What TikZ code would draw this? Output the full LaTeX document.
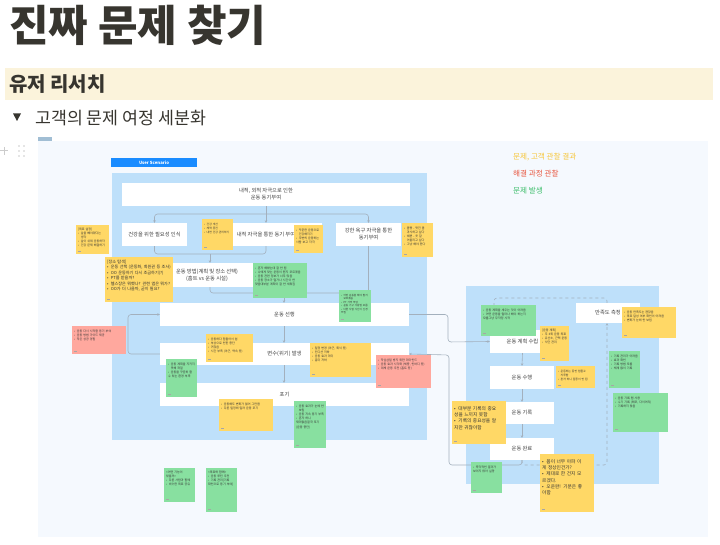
\documentclass[tikz,border=0pt]{standalone}
\usepackage{fontspec}
\setmainfont{Noto Sans CJK KR}
\usetikzlibrary{arrows.meta,calc}
\definecolor{titlec}{HTML}{37352F}
\definecolor{bandc}{HTML}{FBF3DB}
\definecolor{canvasc}{HTML}{F5F9FE}
\definecolor{panelc}{HTML}{BEE0FA}
\definecolor{scenc}{HTML}{1A8CFF}
\definecolor{linec}{HTML}{A3B0BD}
\definecolor{yel}{HTML}{FFD866}
\definecolor{grn}{HTML}{88E0A0}
\definecolor{pnk}{HTML}{FFA89E}
\definecolor{legy}{HTML}{F7C63A}
\definecolor{legr}{HTML}{E8553E}
\definecolor{legg}{HTML}{3DBE6B}
\newcommand\itm[1]{\par\hangindent=0.9em\hangafter=1\noindent\makebox[0.9em][l]{•}#1}
% \sticky{name}{colour}{x1}{y1}{x2}{y2}{font size}{text}
\newcommand\sticky[8]{%
  \fill[#2] (#3,#4) rectangle (#5,#6);
  \pgfmathsetmacro\stw{#5-#3-4}%
  \pgfmathsetmacro\stb{#7*1.35}%
  \node[anchor=north west, inner sep=0pt, text width=\stw pt, align=left,
        font=\fontsize{#7}{\stb}\selectfont, text=black!80] (#1) at ({#3+2},{#4+2.5}) {#8};
  \draw[black!35, line width=0.4pt] ({#3+2},{#6-3}) -- ({#3+5},{#6-3});
}
\tikzset{
  wbox/.style={fill=white, inner sep=0pt, text=black!75, align=center,
               font=\fontsize{5.3}{7}\selectfont},
  conn/.style={draw=linec, line width=0.6pt, rounded corners=3pt},
  arr/.style={-{Stealth[length=2.5pt,width=2.5pt]}},
  legend/.style={anchor=west, inner sep=0pt, font=\fontsize{7.6}{9}\selectfont},
}
\begin{document}
\begin{tikzpicture}[x=1pt,y=-1pt]
\useasboundingbox (0,0) rectangle (720,545);
\fill[white] (0,0) rectangle (720,545);
% header
\node[anchor=west, inner sep=0pt, text=titlec, font=\fontsize{43}{46}\bfseries\selectfont] (title) at (9,25) {진짜 문제 찾기};
\fill[bandc] (5,68) rectangle (713,100);
\node[anchor=west, inner sep=0pt, text=titlec, font=\fontsize{20}{22}\bfseries\selectfont] (head) at (9,84) {유저 리서치};
\fill[titlec] (13,113.5) -- (21,113.5) -- (17,121) -- cycle;
\node[anchor=west, inner sep=0pt, text=titlec, font=\fontsize{17.3}{19}\selectfont] (sub) at (35,118) {고객의 문제 여정 세분화};
% side icons
\draw[black!20, line width=1pt] (0,151) -- (8,151) (4,147) -- (4,155);
\foreach \dx in {19,24} \foreach \dy in {146,151,156} \fill[black!20] (\dx,\dy) circle (0.9);
% canvas
\fill[canvasc] (38,141) rectangle (708,537);
\fill[black!15!panelc] (38,137) rectangle (52,141);
\fill[scenc] (111,158) rectangle (197,167);
\node[inner sep=0pt, text=white, font=\fontsize{4.3}{5}\bfseries\selectfont] (scen) at (154,162.5) {User Scenario};
% legend
\node[legend, text=legy] (lg1) at (513,157) {문제, 고객 관찰 결과};
\node[legend, text=legr] (lg2) at (513,174) {해결 과정 관찰};
\node[legend, text=legg] (lg3) at (513,191) {문제 발생};
% panels
\fill[panelc] (112,173) rectangle (427,440);
\fill[panelc] (466,286) rectangle (659,484);
% left boxes
\node[wbox, minimum width=288pt, minimum height=23pt] (b1) at (266,194.5) {내적, 외적 자극으로 인한\\운동 동기부여};
\node[wbox, minimum width=65pt, minimum height=23pt] (b2) at (154.5,234.5) {건강을 위한 필요성 인식};
\node[wbox, minimum width=112pt, minimum height=23pt] (b3) at (266,234.5) {내적 자극을 통한 동기 부여};
\node[wbox, minimum width=65pt, minimum height=23pt] (b4) at (368.5,234.5) {강한 욕구 자극을 통한\\동기부여};
\node[wbox, minimum width=96pt, minimum height=24pt] (b5) at (207,275) {운동 방법(계획 및 장소 선택)\\(홈트 vs 운동 시설)};
\node[wbox, minimum width=249pt, minimum height=23pt] (b6) at (284.5,314.5) {운동 선행};
\node[wbox, minimum width=249pt, minimum height=22pt] (b7) at (284.5,354) {변수(위기) 발생};
\node[wbox, minimum width=249pt, minimum height=23pt] (b8) at (284.5,394.5) {포기};
% right boxes
\node[wbox, minimum width=65pt, minimum height=23pt] (r1) at (522.5,341.5) {운동 계획 수립};
\node[wbox, minimum width=64pt, minimum height=23pt] (r2) at (522,377.5) {운동 수행};
\node[wbox, minimum width=64pt, minimum height=22pt] (r3) at (522,413) {운동 기록};
\node[wbox, minimum width=64pt, minimum height=22pt] (r4) at (522,449) {운동 완료};
\node[wbox, minimum width=64pt, minimum height=20pt] (r5) at (608,313) {만족도 측정};
% coordinates for connectors
\coordinate (j1) at (266,214);
\coordinate (j2) at (210,254);
\coordinate (j3) at (284,293);
% left connectors
\draw[conn, arr] (b1.south) -- (b3.north);
\draw[conn, arr] (j1) -| (b2.north);
\draw[conn, arr] (j1) -| (b4.north);
\draw[conn] (b2.south) |- (j2) -| (b3.south);
\draw[conn, arr] (j2) -- (b5.north -| j2);
\draw[conn] (b5.south -| j2) |- (j3);
\draw[conn] (b4.south) |- (j3);
\draw[conn, arr] (j3) -- (b6.north -| j3);
\draw[conn, arr] (b6.south -| j3) -- (b7.north -| j3);
\draw[conn, arr] (b7.south -| j3) -- (b8.north -| j3);
\draw[conn, arr] (b7.west) -- (128,354) -- (128,314.5) -- (b6.west);
% right connectors
\draw[conn, arr] (b6.east) -- (448,314.5) -- (448,342) -- (r1.west);
\draw[conn, arr] (r4.south) -- (522,465) -- (449,465) -- (449,355) -- (b7.east);
\draw[conn, arr] (r1.south) -- (r2.north);
\draw[conn, arr] (r2.south) -- (r3.north);
\draw[conn, arr] (r3.south) -- (r4.north);
\coordinate (d1) at (607,465);
\coordinate (d2) at (607,298);
\coordinate (d3) at (494,298);
\coordinate (d4) at (494,330.5);
\draw[conn, dashed, arr] (r4.south) -- (522,465) -- (d1) -- (r5.south -| d1);
\draw[conn, dashed, arr] (r5.north -| d2) -- (d2) -- (d3) -- (d4);
% stickies - left panel
\sticky{s1}{yel}{76}{225}{109}{254}{3}{[목표 설정]\itm{살을 빼야겠다는 생각}\itm{살이 쉬워 운동하자}\itm{건강 문제 해결하기}}
\sticky{s2}{yel}{202}{219}{233}{250}{2.8}{\itm{건강 개선}\itm{체력 증진}\itm{내면 건강 관리하기}}
\sticky{s3}{yel}{294}{225}{323}{253}{3}{\itm{꾸준한 운동으로 건강해지기}\itm{주변의 운동하는 사람 보고 자극}}
\sticky{s4}{yel}{402}{223}{433}{257}{3}{\itm{몸짱 - 멋진 몸 과시하고 싶다}\itm{예쁜 - 옷 잘 어울리고 싶다}\itm{그냥 해야 한다}}
\sticky{s5}{yel}{105}{257}{173}{302}{4.1}{[장소 탐색]\itm{운동 선택 (운동화, 회원권 등 조사)}\itm{OO 운동하기 다시 조금하기(?)}\itm{PT를 받을까?}\itm{헬스장은 뭐했나? 관련 앱은 뭐가?}\itm{OO가 더 나을까, 굳이 필요?}}
\sticky{s6}{grn}{253}{263}{307}{298}{3}{\itm{혼자 해봤는데 잘 안 됨}\itm{나에게 맞는 운동이 뭔지 모르겠음}\itm{운동 관련 정보가 너무 많음}\itm{운동 장소가 멀거나 시간이 안 맞음}대부분 계획이 잘 안 세워짐}
\sticky{s7}{grn}{339}{290}{371}{322}{2.6}{\itm{어떤 운동을 해야 할지 모르겠음}\itm{PT 가격 부담}\itm{운동 기구 사용법 모름}\itm{다른 사람 시선이 신경 쓰임}}
\sticky{s8}{pnk}{72}{326}{126}{354}{3}{\itm{운동 다시 시작할 동기 부여}\itm{운동 방법 가이드 제공}\itm{작은 성공 경험}}
\sticky{s9}{yel}{206}{334}{253}{362}{3}{\itm{운동하다 힘들어서 쉼}\itm{부상으로 인한 중단}\itm{귀찮음}\itm{시간 부족 (야근, 약속 등)}}
\sticky{s10}{grn}{166}{359}{197}{397}{3}{\itm{운동 계획을 지키지 못해 좌절}\itm{운동을 꾸준히 할 수 있는 환경 부족}}
\sticky{s11}{yel}{310}{343}{371}{377}{3}{\itm{일정 변경 (야근, 회식 등)}\itm{컨디션 저하}\itm{운동 효과 미미}\itm{흥미 저하}}
\sticky{s12}{pnk}{376}{355}{431}{388}{3}{\itm{작심삼일 방지 위한 리마인드}\itm{운동 효과 시각화 (체중, 인바디 등)}\itm{대체 운동 추천 (홈트 등)}}
\sticky{s13}{grn}{294}{401}{326}{448}{3}{\itm{운동 효과가 눈에 안 보임}\itm{운동 지속 동기 부족}\itm{혼자 하니 재미없음}결국 포기 (운동 중단)}
\sticky{s14}{yel}{219}{399}{273}{431}{3}{\itm{운동해도 변화가 없어 그만둠}\itm{다른 일정에 밀려 운동 포기}}
\sticky{s15}{grn}{164}{468}{195}{502}{3}{<어떤 기능이 있을까>\itm{다른 사람과 함께}\itm{비슷한 목표 공유}}
\sticky{s16}{grn}{206}{468}{237}{512}{3}{<목표와 함께>\itm{운동 루틴 추천}\itm{기록 관리}[기록 확인으로 동기 부여]}
% stickies - right panel
\sticky{t1}{grn}{481}{305}{536}{336}{3}{\itm{운동 계획을 세우는 것이 어려움}\itm{어떤 운동을 얼마나 해야 하는지 모름}그냥 무작정 시작}
\sticky{t2}{yel}{540}{326}{569}{361}{3}{[운동 계획]\itm{주 3회 운동 목표}\itm{유산소, 근력 운동}\itm{식단 관리}}
\sticky{t3}{yel}{622}{307}{676}{338}{3}{\itm{운동 만족도는 괜찮음}\itm{목표 달성 여부 확인이 어려움}\itm{변화가 눈에 안 보임}}
\sticky{t4}{grn}{609}{351}{640}{388}{3}{\itm{기록 관리가 어려움}\itm{효과 확인}\itm{기록 방법 모름}\itm{체계 없이 기록}}
\sticky{t5}{yel}{556}{366}{595}{388}{2.8}{\itm{운동하는 동안 힘들고 지루함}\itm{혼자 하니 집중이 안 됨}}
\sticky{t6}{grn}{613}{393}{668}{432}{3}{\itm{운동 기록 앱 사용}\itm{수기 기록 (메모, 다이어리)}\itm{기록하지 않음}}
\sticky{t7}{yel}{452}{401}{506}{444}{4.7}{\itm{대부분 기록의 중요\\성을 느끼지 못함}\itm{기록의 중요성을 알\\지만 귀찮아함}}
\sticky{t8}{grn}{471}{462}{502}{493}{3}{\itm{즉각적인 결과가 보이지 않아 실망}}
\sticky{t9}{yel}{540}{454}{594}{512}{4.7}{\itm{몸이 너무 아파 이\\게 정상인건가?}\itm{제대로 한 건지 모\\르겠다.}\itm{오운완! 기분은 좋\\아함}}
\end{tikzpicture}
\end{document}
